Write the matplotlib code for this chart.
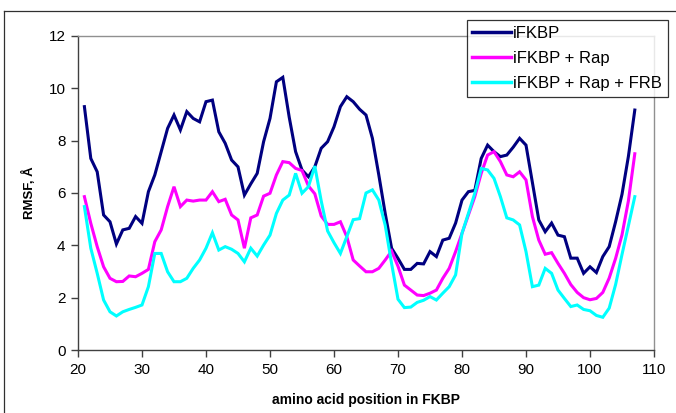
import matplotlib
matplotlib.use('Agg')
import matplotlib.pyplot as plt
from matplotlib.lines import Line2D

plt.rcParams['font.family'] = ['Liberation Sans', 'DejaVu Sans']

# Residue positions and RMSF values (Å)
residues = list(range(21, 108))

rmsf_ifkbp = [9.30, 7.32, 6.81, 5.16, 4.90, 4.05, 4.59, 4.65, 5.10, 4.84,
              6.05, 6.69, 7.58, 8.47, 8.98, 8.41, 9.11, 8.85, 8.72, 9.49,
              9.55, 8.34, 7.90, 7.26, 7.00, 5.92, 6.35, 6.75, 7.96, 8.85,
              10.25, 10.42, 8.90, 7.58, 6.88, 6.62, 7.00, 7.71, 7.96, 8.53,
              9.30, 9.68, 9.49, 9.20, 8.98, 8.09, 6.69, 5.22, 3.89, 3.50,
              3.08, 3.08, 3.31, 3.29, 3.76, 3.57, 4.20, 4.27, 4.85, 5.73,
              6.05, 6.10, 7.32, 7.83, 7.58, 7.39, 7.45, 7.75, 8.09, 7.83,
              6.40, 4.97, 4.52, 4.85, 4.39, 4.33, 3.51, 3.51, 2.93, 3.18,
              2.96, 3.57, 3.95, 4.90, 5.95, 7.40, 9.17]

rmsf_rap = [5.86, 4.84, 3.95, 3.18, 2.74, 2.61, 2.62, 2.83, 2.80, 2.93,
            3.08, 4.14, 4.59, 5.48, 6.24, 5.48, 5.73, 5.69, 5.73, 5.73,
            6.05, 5.67, 5.76, 5.16, 4.97, 3.89, 5.05, 5.16, 5.88, 5.99,
            6.69, 7.20, 7.16, 6.94, 6.86, 6.27, 5.97, 5.12, 4.80, 4.80,
            4.90, 4.33, 3.44, 3.21, 2.99, 2.99, 3.12, 3.44, 3.78, 3.20,
            2.48, 2.29, 2.10, 2.08, 2.17, 2.29, 2.74, 3.12, 3.76, 4.46,
            5.16, 5.86, 6.75, 7.45, 7.58, 7.20, 6.69, 6.62, 6.81, 6.50,
            5.10, 4.20, 3.66, 3.72, 3.31, 2.93, 2.50, 2.20, 2.00, 1.92,
            1.97, 2.20, 2.75, 3.50, 4.40, 5.70, 7.50]

rmsf_rap_frb = [5.48, 3.89, 2.93, 1.91, 1.46, 1.30, 1.46, 1.55, 1.63, 1.72,
                2.42, 3.69, 3.69, 2.99, 2.61, 2.61, 2.74, 3.12, 3.44, 3.89,
                4.48, 3.82, 3.95, 3.85, 3.69, 3.37, 3.89, 3.59, 4.01, 4.39,
                5.22, 5.73, 5.92, 6.75, 5.99, 6.24, 7.03, 5.70, 4.55, 4.10,
                3.69, 4.33, 4.98, 5.02, 6.00, 6.12, 5.73, 4.77, 3.30, 1.94,
                1.62, 1.64, 1.82, 1.90, 2.04, 1.91, 2.17, 2.42, 2.87, 4.46,
                5.22, 5.99, 6.94, 6.88, 6.56, 5.86, 5.05, 4.97, 4.78, 3.76,
                2.42, 2.48, 3.12, 2.93, 2.29, 1.97, 1.66, 1.72, 1.55, 1.50,
                1.32, 1.25, 1.60, 2.50, 3.65, 4.75, 5.86]

series_labels = ['iFKBP', 'iFKBP + Rap', 'iFKBP + Rap + FRB']
series_colors = ['#000080', '#FF00FF', '#00FFFF']

fig = plt.figure(figsize=(6.76, 4.13), dpi=100)
fig.patch.set_facecolor('white')

# chart area border (left and top visible)
fig.add_artist(Line2D([4 / 676, 4 / 676], [0, 1 - 11 / 413], transform=fig.transFigure,
                      color='#303030', lw=0.9))
fig.add_artist(Line2D([4 / 676, 1], [1 - 11 / 413, 1 - 11 / 413], transform=fig.transFigure,
                      color='#303030', lw=0.9))

ax = fig.add_axes([78 / 676, 1 - 350 / 413, 576 / 676, 314 / 413])

for values, label, color in zip([rmsf_ifkbp, rmsf_rap, rmsf_rap_frb], series_labels, series_colors):
    ax.plot(residues, values, color=color, lw=2.2, label=label, solid_joinstyle='miter')

ax.set_xlim(20, 110)
ax.set_ylim(0, 12)
ax.set_xticks(range(20, 111, 10))
ax.set_yticks(range(0, 13, 2))
ax.tick_params(direction='out', length=5, width=1, colors='#404040', labelcolor='black',
               labelsize=11, pad=4)

for side in ['left', 'bottom']:
    ax.spines[side].set_color('#404040')
    ax.spines[side].set_linewidth(1)
for side in ['top', 'right']:
    ax.spines[side].set_color('#909090')
    ax.spines[side].set_linewidth(1)

ax.set_xlabel('amino acid position in FKBP', fontsize=10, fontweight='bold', labelpad=12)
ax.set_ylabel('RMSF, Å', fontsize=9.5, fontweight='bold', labelpad=9)

leg = fig.legend(loc='upper right', bbox_to_anchor=(668 / 676, 1 - 20 / 413),
                 fontsize=12, frameon=True, fancybox=False, handlelength=2.3,
                 handletextpad=0.15, borderpad=0.35, labelspacing=0.6, borderaxespad=0)
leg.get_frame().set_edgecolor('black')
leg.get_frame().set_linewidth(0.9)
for line in leg.get_lines():
    line.set_linewidth(2.5)

fig.savefig('out.png', dpi=100)
